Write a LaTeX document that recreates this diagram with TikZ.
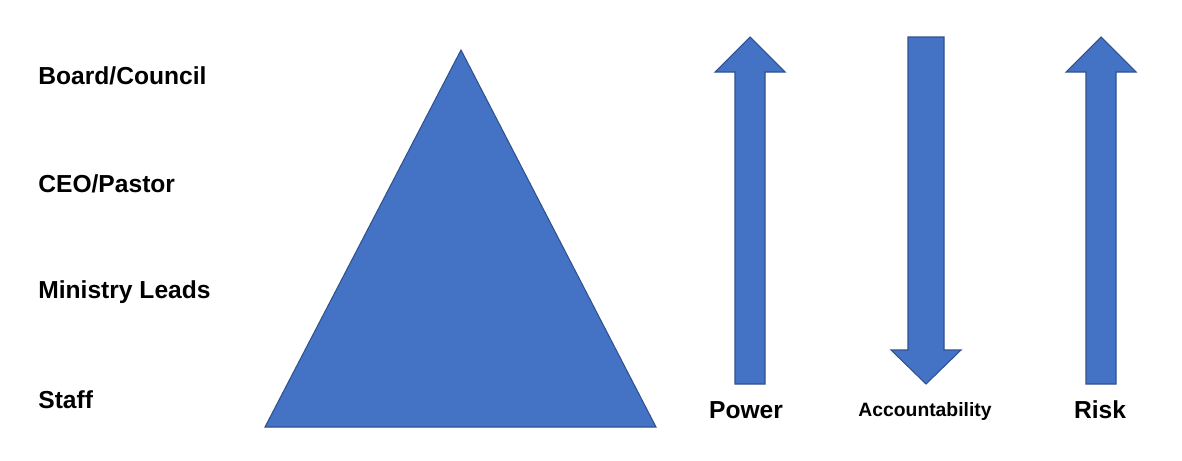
\documentclass[tikz,border=0pt]{standalone}
\usepackage{fontspec}
\setmainfont{Liberation Sans}
\definecolor{fillblue}{HTML}{4472C4}
\definecolor{edgeblue}{HTML}{2F528F}
\begin{document}
\begin{tikzpicture}[x=0.02cm,y=-0.02cm,
  blueshape/.style={fill=fillblue,draw=edgeblue,line width=0.6pt,line join=miter},
  lbl/.style={anchor=west,font=\fontsize{14}{16}\selectfont\bfseries,inner sep=0pt},
  albl/.style={font=\fontsize{14}{16}\selectfont\bfseries,inner sep=0pt}]
\useasboundingbox (0,0) rectangle (1182,460);
\node[lbl] (board) at (38,76) {Board/Council};
\node[lbl] (ceo) at (38,184) {CEO/Pastor};
\node[lbl] (ml) at (38,292) {Ministry Leads};
\node[lbl] (staff) at (38,400) {Staff};
\draw[blueshape] (461,50) -- (656,427) -- (265,427) -- cycle;
% Power (up)
\draw[blueshape] (735,384) -- (735,72) -- (715,72) -- (750,37) -- (785,72) -- (765,72) -- (765,384) -- cycle;
% Accountability (down)
\draw[blueshape] (908,37) -- (908,350) -- (891,350) -- (926,384) -- (961,350) -- (944,350) -- (944,37) -- cycle;
% Risk (up)
\draw[blueshape] (1086,384) -- (1086,72) -- (1066,72) -- (1101,37) -- (1136,72) -- (1116,72) -- (1116,384) -- cycle;
\node[albl] (power) at (746,410) {Power};
\node[albl,font=\fontsize{11}{13}\selectfont\bfseries] (acc) at (925,411) {Accountability};
\node[albl] (risk) at (1100,410) {Risk};
\end{tikzpicture}
\end{document}
